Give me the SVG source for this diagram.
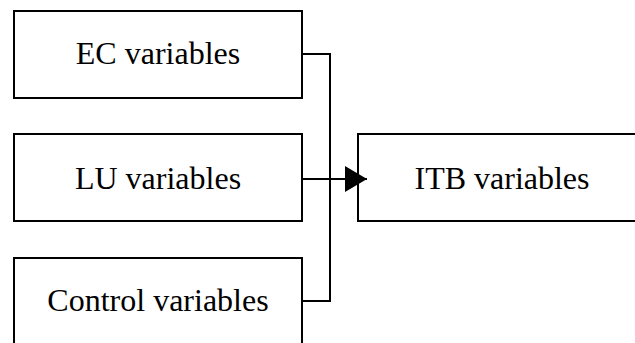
<svg xmlns="http://www.w3.org/2000/svg" width="635" height="343" viewBox="0 0 635 343">
<style>
.box{fill:#fff;stroke:#000;stroke-width:2}
.lbl{font-family:"Liberation Serif","Times New Roman",serif;font-size:32px;fill:#000;text-anchor:middle}
.con{fill:none;stroke:#000;stroke-width:2}
</style>
<defs>
<marker id="arr" markerUnits="userSpaceOnUse" markerWidth="24" markerHeight="28" refX="22" refY="13" orient="auto">
<path d="M0,0 L22,13 L0,26 Z" fill="#000"/>
</marker>
</defs>
<g id="ec">
<rect class="box" x="14" y="11" width="288" height="87"/>
<text class="lbl" x="158" y="64">EC variables</text>
</g>
<g id="lu">
<rect class="box" x="14" y="134" width="288" height="87"/>
<text class="lbl" x="158" y="189">LU variables</text>
</g>
<g id="control">
<rect class="box" x="14" y="258" width="288" height="87"/>
<text class="lbl" x="158" y="311">Control variables</text>
</g>
<g id="itb">
<rect class="box" x="358" y="134" width="288" height="87"/>
<text class="lbl" x="502" y="189">ITB variables</text>
</g>
<g id="connectors">
<polyline class="con" points="302,54 330,54 330,301 302,301"/>
<line class="con" x1="302" y1="179" x2="367" y2="179" marker-end="url(#arr)"/>
</g>
</svg>
